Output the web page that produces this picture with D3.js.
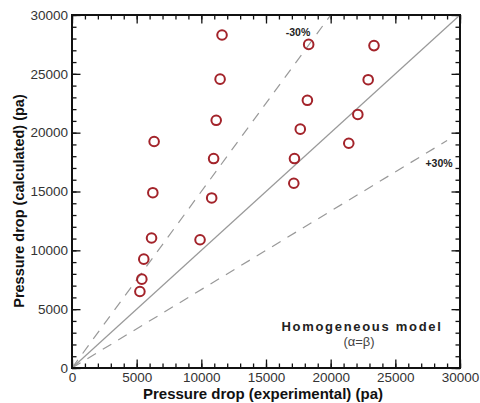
<!DOCTYPE html>
<html><head><meta charset="utf-8">
<script src="https://cdn.jsdelivr.net/npm/d3@7"></script>
<style>body{margin:0;background:#fff}svg{display:block}</style>
</head><body><svg id="c" width="480" height="403"></svg>
<script>
const expData  = [11600,11450,11150,6350,10950,6250,10800,18300,23350,22900,18200,22100,17650,21400,17200,17150,6150,9900,5550,5400,5250];
const calcData = [28300,24550,21050,19250,17800,14900,14450,27500,27400,24500,22750,21550,20300,19100,17800,15700,11050,10900,9250,7550,6500];
const majorTicks = [0,5000,10000,15000,20000,25000,30000];
const minorTicks = d3.range(0,30001,1000);
const ratioUpper = 1.5, ratioLower = 1/1.5;

const svg = d3.select("#c");
const L=72,R=460,T=15,B=368;
const x = d3.scaleLinear().domain([0,30000]).range([L,R]);
const y = d3.scaleLinear().domain([0,30000]).range([B,T]);
const font = "'Liberation Sans', Arial, sans-serif";

function ax(gen, tr, ticks, size, labels){
  const g = svg.append("g").attr("transform",tr)
    .call(gen.tickValues(ticks).tickSizeInner(size).tickSizeOuter(0).tickPadding(4)
      .tickFormat(labels? d3.format("d") : ""));
  g.select(".domain").remove();
  g.selectAll("line").attr("stroke","#111").attr("stroke-width",1.3);
  g.selectAll("text").attr("font-family",font).attr("font-size",13.5).attr("fill","#333");
  return g;
}
ax(d3.axisBottom(x), `translate(0,${B})`, minorTicks, -4.5, false);
ax(d3.axisBottom(x), `translate(0,${B})`, majorTicks, -8.5, true);
ax(d3.axisTop(x), `translate(0,${T})`, minorTicks, -4.5, false);
ax(d3.axisTop(x), `translate(0,${T})`, majorTicks, -8.5, false);
ax(d3.axisLeft(y), `translate(${L},0)`, minorTicks, -4.5, false);
ax(d3.axisLeft(y), `translate(${L},0)`, majorTicks, -8.5, true);
ax(d3.axisRight(y), `translate(${R},0)`, minorTicks, -4.5, false);
ax(d3.axisRight(y), `translate(${R},0)`, majorTicks, -8.5, false);

// reference lines
const line = d3.line().x(d=>x(d[0])).y(d=>y(d[1]));
svg.append("path").attr("d",line([[0,0],[30000,30000]]))
  .attr("stroke","#999").attr("stroke-width",1.2).attr("fill","none");
svg.append("path").attr("d",line([[0,0],[30000/ratioUpper,30000]]))
  .attr("stroke","#999").attr("stroke-width",1.2).attr("fill","none").attr("stroke-dasharray","10,8");
svg.append("path").attr("d",line([[0,0],[29000,29000*ratioLower]]))
  .attr("stroke","#999").attr("stroke-width",1.2).attr("fill","none").attr("stroke-dasharray","10,8");

// frame
svg.append("rect").attr("x",L).attr("y",T).attr("width",R-L).attr("height",B-T)
  .attr("fill","none").attr("stroke","#111").attr("stroke-width",2);

// points
svg.append("g").selectAll("circle").data(expData).join("circle")
  .attr("cx",(d)=>x(d)).attr("cy",(d,i)=>y(calcData[i])).attr("r",4.8)
  .attr("fill","none").attr("stroke","#a3232a").attr("stroke-width",2);

// labels
svg.append("text").attr("x",298).attr("y",36).attr("text-anchor","middle")
  .attr("font-family",font).attr("font-size",10.5).attr("font-weight","bold").attr("fill","#222").text("-30%");
svg.append("text").attr("x",439).attr("y",167).attr("text-anchor","middle")
  .attr("font-family",font).attr("font-size",10.5).attr("font-weight","bold").attr("fill","#222").text("+30%");
svg.append("text").attr("x",362).attr("y",331).attr("text-anchor","middle")
  .attr("font-family",font).attr("font-size",13).attr("font-weight","bold").attr("letter-spacing",1.7).attr("fill","#222").text("Homogeneous model");
svg.append("text").attr("x",359).attr("y",346).attr("text-anchor","middle")
  .attr("font-family",font).attr("font-size",13).attr("fill","#444").text("(α=β)");

svg.append("text").attr("x",263).attr("y",399).attr("text-anchor","middle")
  .attr("font-family",font).attr("font-size",15).attr("font-weight","bold").attr("fill","#111")
  .text("Pressure drop (experimental) (pa)");
svg.append("text").attr("transform","translate(24,201) rotate(-90)").attr("text-anchor","middle")
  .attr("font-family",font).attr("font-size",14.5).attr("font-weight","bold").attr("fill","#111")
  .text("Pressure drop (calculated) (pa)");
</script></body></html>
